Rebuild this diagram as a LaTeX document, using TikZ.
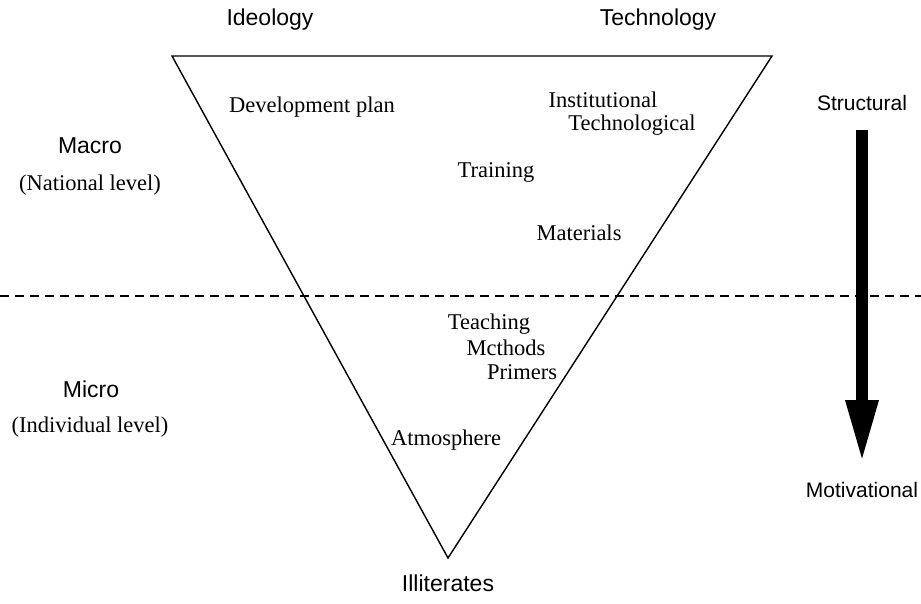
\documentclass[tikz,border=0pt]{standalone}
\usepackage{fontspec}
\setmainfont{Liberation Serif}
\newfontfamily\gothic{Liberation Sans}
\usetikzlibrary{arrows.meta}
\tikzstyle{sanslabel} = [font=\gothic\fontsize{23}{26}\selectfont, inner sep=0pt]
\tikzstyle{sidelabel} = [font=\gothic\fontsize{21}{24}\selectfont, inner sep=0pt]
\tikzstyle{seriflabel} = [font=\fontsize{22.5}{25}\selectfont, inner sep=0pt]

\begin{document}
\begin{tikzpicture}[x=1pt, y=-1pt]
                \useasboundingbox (0,0) rectangle (921,604);
                % triangle
                \coordinate (tl) at (172,56);
                \coordinate (tr) at (772,56);
                \coordinate (tip) at (448,558);
                \draw[line width=1.4pt, line join=miter] (tl) -- (tr) -- (tip) -- cycle;
                % level separator
                \coordinate (sepl) at (0,296);
                \coordinate (sepr) at (921,296);
                \draw[line width=1.2pt, dash pattern=on 9pt off 6pt] (sepl) -- (sepr);
                % top and bottom
                \node[sanslabel] (ideology) at (270,20) {Ideology};
                \node[sanslabel] (technology) at (658,20) {Technology};
                \node[sanslabel] (illiterates) at (448,583) {Illiterates};
                % levels
                \node[sanslabel] (macro) at (90,146) {Macro};
                \node[seriflabel] (national) at (90,185) {(National level)};
                \node[sanslabel] (micro) at (91,389) {Micro};
                \node[seriflabel] (individual) at (90,427) {(Individual level)};
                % inside
                \node[seriflabel] (devplan) at (312,107) {Development plan};
                \node[seriflabel] (institutional) at (603,100) {Institutional};
                \node[seriflabel] (technological) at (632,125) {Technological};
                \node[seriflabel] (training) at (496,172) {Training};
                \node[seriflabel] (materials) at (579,233) {Materials};
                \node[seriflabel] (teaching) at (489,324) {Teaching};
                \node[seriflabel] (methods) at (506,348) {Mcthods};
                \node[seriflabel] (primers) at (522,372) {Primers};
                \node[seriflabel] (atmosphere) at (446,440) {Atmosphere};
                % structural to motivational
                \node[sidelabel] (structural) at (862,103) {Structural};
                \node[sidelabel] (motivational) at (862,490) {Motivational};
                \coordinate (arrowtop) at (862,130);
                \coordinate (arrowend) at (862,463);
                \draw[line width=12pt, -{Triangle[length=63pt, width=30pt]}] (arrowtop) -- (arrowend);
            \end{tikzpicture}
\end{document}
